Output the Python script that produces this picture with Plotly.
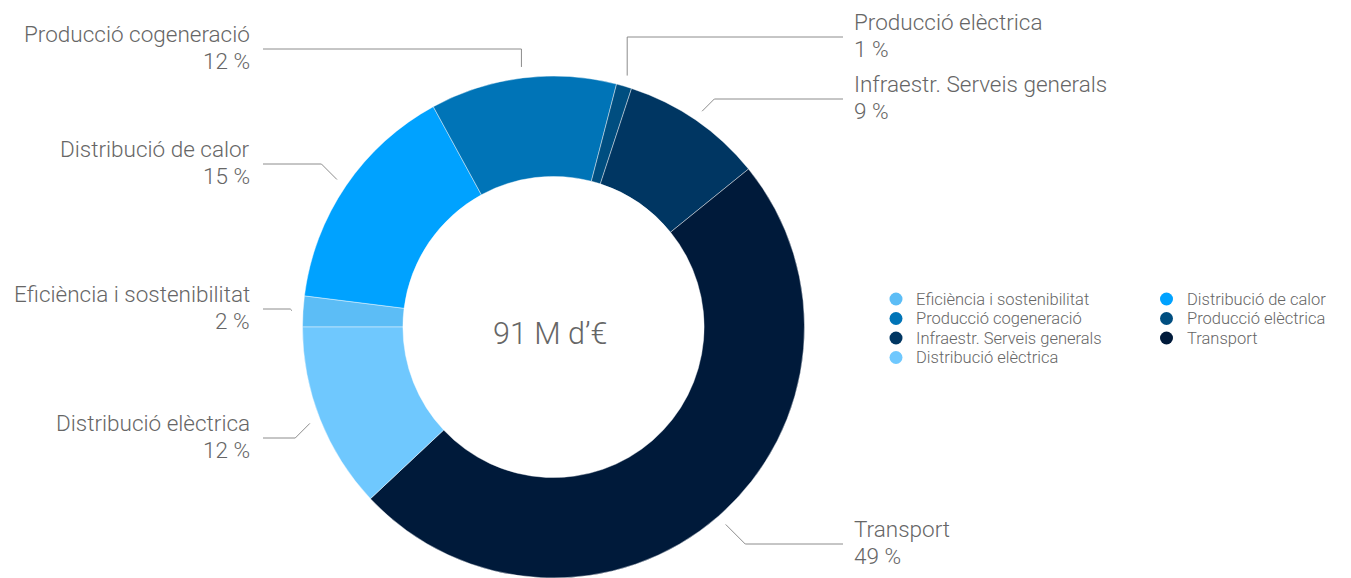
import math

import plotly.graph_objects as go

# data (M d'€), clockwise from 9 o'clock
labels = [
    "Eficiència i sostenibilitat",
    "Distribució de calor",
    "Producció cogeneració",
    "Producció elèctrica",
    "Infraestr. Serveis generals",
    "Transport",
    "Distribució elèctrica",
]
values = [1.8, 13.7, 10.9, 0.9, 8.3, 44.4, 10.9]
colors = ["#5cbdf6", "#00a2ff", "#0074b7", "#004e80", "#003662", "#001a3a", "#6fc8fe"]

# layout (page pixels; the page body adds an 8px offset)
W, H = 1360, 578
OFF = 8
CX, CY, R = 553.5, 327, 251
ROTATION = -90
GREY = "#666666"
LINE = "#8c8c8c"
FONT = "Roboto"

# side, y of the leader line, leader style
label_pos = [
    ("left", 309, "diag"),
    ("left", 164, "diag"),
    ("left", 49, "vert"),
    ("right", 37, "vert"),
    ("right", 99, "diag"),
    ("right", 544, "diag"),
    ("left", 438, "diag"),
]


def px(x):
    return (x - OFF) / W


def py(y):
    return 1 - (y - OFF) / H


total = sum(values)

fig = go.Figure(
    go.Pie(
        labels=labels,
        values=values,
        hole=0.6,
        sort=False,
        direction="clockwise",
        rotation=ROTATION,
        marker=dict(colors=colors, line=dict(color="rgba(255,255,255,0.7)", width=0.6)),
        textinfo="none",
        showlegend=False,
        domain=dict(x=[px(CX - R), px(CX + R)], y=[py(CY + R), py(CY - R)]),
        hovertemplate="%{label}: <b>%{value} M€</b><extra></extra>",
    )
)

# outside labels with leader lines
start = ROTATION
for name, v, (side, ly, style) in zip(labels, values, label_pos):
    sweep = 360 * v / total
    mid = math.radians(start + sweep / 2)
    start += sweep
    x0 = CX + 262 * math.sin(mid)
    y0 = CY - 262 * math.cos(mid)
    left = side == "left"
    if style == "vert":
        ex = x0
    else:
        d = abs(ly - y0)
        ex = x0 - d if left else x0 + d
    end_x = 263 if left else 843
    fig.add_shape(
        type="path",
        xref="paper",
        yref="paper",
        path=f"M {px(x0)} {py(y0)} L {px(ex)} {py(ly)} L {px(end_x)} {py(ly)}",
        line=dict(color=LINE, width=1),
    )
    tx = 251 if left else 853
    anchor = "right" if left else "left"
    pct = f"{round(v / total * 100)} %"
    for txt, dy in ((name, -15), (pct, 12)):
        fig.add_annotation(
            x=px(tx),
            y=py(ly + dy),
            xref="paper",
            yref="paper",
            text=txt,
            showarrow=False,
            xanchor=anchor,
            yanchor="middle",
            font=dict(size=22.5, color=GREY),
        )

# centre total
fig.add_annotation(
    x=px(550),
    y=py(333),
    xref="paper",
    yref="paper",
    text=f"{round(total)} M d’€",
    showarrow=False,
    font=dict(size=30.5, color=GREY),
)

# two-column legend
for i, (name, c) in enumerate(zip(labels, colors)):
    row, col = divmod(i, 2)
    mx = 896 + col * 270.5
    my = 299 + row * 19.5
    fig.add_shape(
        type="circle",
        xref="paper",
        yref="paper",
        x0=px(mx - 6.5),
        x1=px(mx + 6.5),
        y0=py(my + 6.5),
        y1=py(my - 6.5),
        fillcolor=c,
        line_width=0,
    )
    fig.add_annotation(
        x=px(mx + 19),
        y=py(my),
        xref="paper",
        yref="paper",
        text=name,
        showarrow=False,
        xanchor="left",
        yanchor="middle",
        font=dict(size=16.5, color=GREY),
    )

fig.update_annotations(borderpad=0)
fig.update_layout(
    width=W,
    height=H,
    margin=dict(l=0, r=0, t=0, b=0),
    paper_bgcolor="white",
    plot_bgcolor="white",
    font=dict(family=FONT, weight=300, color=GREY),
)
fig.write_html("out.html")
